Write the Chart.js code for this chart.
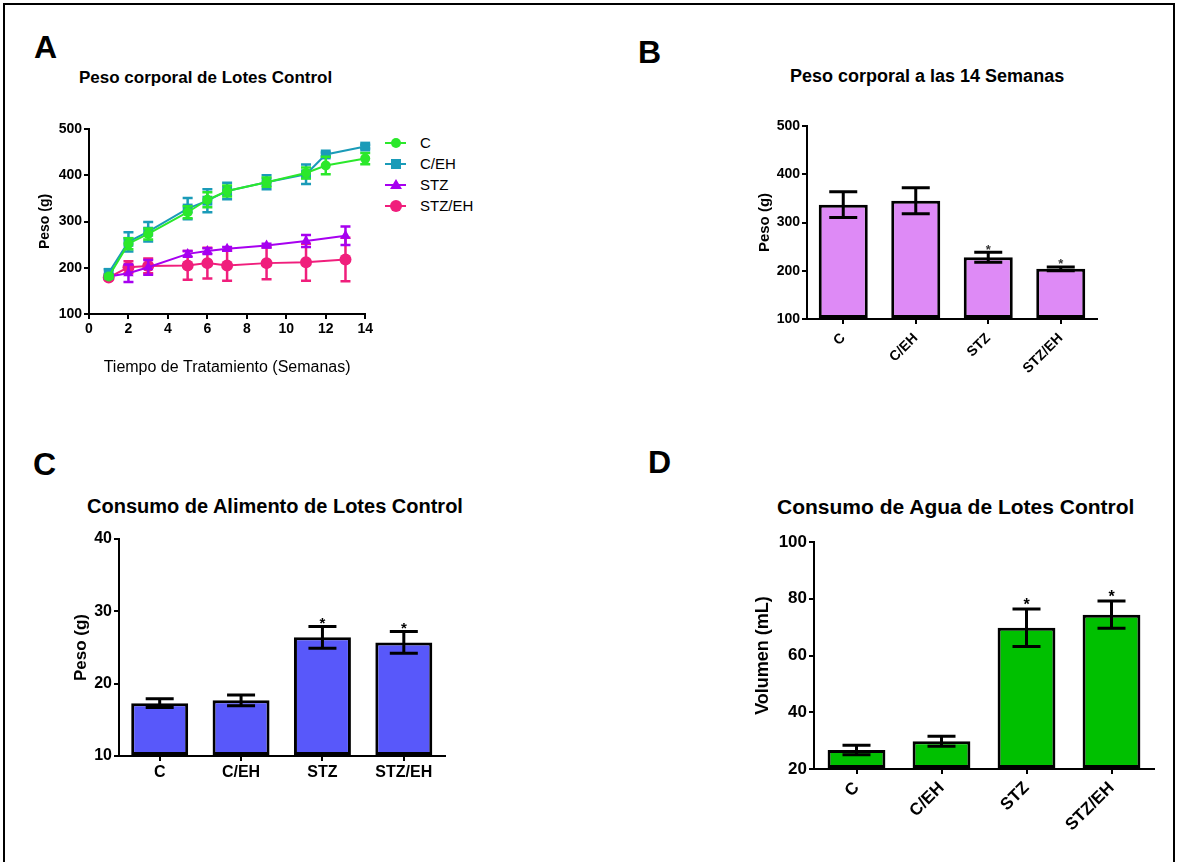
<!DOCTYPE html>
<html>
<head>
<meta charset="utf-8">
<script src="https://cdn.jsdelivr.net/npm/chart.js@4.4.1/dist/chart.umd.min.js"></script>
<style>
  body { margin:0; background:#fff; width:1177px; height:862px; overflow:hidden; position:relative; font-family:'Liberation Sans', Arial, sans-serif; }
  .frame { position:absolute; left:3px; top:3px; width:1168px; height:880px; border:2px solid #000; }
  .abs { position:absolute; white-space:nowrap; line-height:1; color:#000; }
  .letter { font-size:32px; font-weight:bold; }
  .ttl { font-weight:bold; }
  .box { position:absolute; }
  #legA .row { position:absolute; left:0; height:21px; width:120px; }
  #legA .ln { position:absolute; left:0; top:10px; width:21px; height:2px; }
  #legA .mk { position:absolute; }
  #legA .tx { position:absolute; left:35px; top:3px; font-size:15px; line-height:1; }
</style>
</head>
<body>
<div class="frame"></div>

<div class="abs letter" style="left:34px;top:31px">A</div>
<div class="abs letter" style="left:638px;top:36px">B</div>
<div class="abs letter" style="left:33px;top:448px">C</div>
<div class="abs letter" style="left:648px;top:446px">D</div>

<div class="abs ttl" style="left:79px;top:69px;font-size:17px">Peso corporal de Lotes Control</div>
<div class="abs ttl" style="left:790px;top:67px;font-size:18px">Peso corporal a las 14 Semanas</div>
<div class="abs ttl" style="left:87px;top:496px;font-size:20px">Consumo de Alimento de Lotes Control</div>
<div class="abs ttl" style="left:777px;top:496px;font-size:21px">Consumo de Agua de Lotes Control</div>

<div class="box" style="left:33px;top:112px;width:342px;height:269px"><canvas id="chartA"></canvas></div>
<div id="legA" class="box" style="left:385px;top:132px;width:120px;height:90px"></div>
<div class="box" style="left:752px;top:110px;width:355px;height:280px"><canvas id="chartB"></canvas></div>
<div class="box" style="left:67px;top:522px;width:388px;height:268px"><canvas id="chartC"></canvas></div>
<div class="box" style="left:748px;top:525px;width:417px;height:320px"><canvas id="chartD"></canvas></div>

<script>
// --- data ---
const weeksC = [1, 2, 3, 5, 6, 7, 9, 11, 12, 14];
const weeksSTZ = [1, 2, 3, 5, 6, 7, 9, 11, 13];

const pesoC     = [181, 252, 273, 320, 347, 366, 385, 405, 421, 436];
const errC      = [4, 12, 12, 13, 16, 12, 10, 12, 19, 12];
const pesoCEH   = [189, 256, 278, 328, 345, 366, 385, 402, 445, 462];
const errCEH    = [8, 21, 21, 23, 25, 18, 15, 21, 4, 4];
const pesoSTZ   = [181, 188, 201, 230, 236, 241, 248, 258, 269];
const errSTZ    = [5, 19, 16, 6, 6, 4, 4, 13, 20];
const pesoSTZEH = [179, 201, 204, 205, 210, 205, 210, 212, 218];
const errSTZEH  = [4, 13, 16, 31, 33, 33, 35, 40, 47];

const grupos = ['C', 'C/EH', 'STZ', 'STZ/EH'];
const peso14 = [337, 345, 228, 204];
const errPeso14 = [26.5, 27, 10.5, 4];
const alimento = [17.3, 17.7, 26.4, 25.7];
const errAlimento = [0.6, 0.75, 1.5, 1.5];
const agua = [26.7, 29.8, 69.8, 74.4];
const errAgua = [1.7, 1.75, 6.6, 4.8];
const signif = ['', '', '*', '*'];

const FONT = "'Liberation Sans', Arial, sans-serif";
Chart.defaults.font.family = FONT;
Chart.defaults.color = '#000';

// error bars (+ significance marks) drawn from the y scale
const errorBars = {
  id: 'errorBars',
  beforeDatasetDraw(chart, args) { if (chart.data.datasets[args.index].errBehind) draw(chart, args); },
  afterDatasetDraw(chart, args) { if (!chart.data.datasets[args.index].errBehind) draw(chart, args); }
};
function draw(chart, args) {
  const ds = chart.data.datasets[args.index];
  if (!ds.errors) return;
  const y = chart.scales.y, ctx = chart.ctx;
  ctx.save();
  ctx.strokeStyle = ds.errColor || ds.borderColor;
  ctx.lineWidth = ds.errWidth || 2;
  args.meta.data.forEach((el, i) => {
    const raw = ds.data[i];
    const v = typeof raw === 'object' ? raw.y : raw;
    const e = ds.errors[i];
    const top = y.getPixelForValue(v + e), bot = y.getPixelForValue(v - e);
    const x = el.x, c = ds.capHalf || 5;
    ctx.beginPath();
    ctx.moveTo(x, top); ctx.lineTo(x, bot);
    ctx.moveTo(x - c, top); ctx.lineTo(x + c, top);
    ctx.moveTo(x - c, bot); ctx.lineTo(x + c, bot);
    ctx.stroke();
    if (ds.marks && ds.marks[i]) {
      ctx.fillStyle = ds.markColor || '#000';
      ctx.font = 'bold ' + ds.markSize + 'px ' + FONT;
      ctx.textAlign = 'center';
      ctx.textBaseline = 'alphabetic';
      ctx.fillText(ds.marks[i], x, top - ds.markGap + ds.markSize * 0.58);
    }
  });
  ctx.restore();
}

function axis(size, extra) {
  return Object.assign({
    border: { color: '#000', width: 2 },
    grid: { display: true, drawOnChartArea: false, drawTicks: true, tickLength: 5, color: '#000', lineWidth: 2, offset: false },
    ticks: { color: '#000', font: { size: size, weight: 'bold' }, padding: 2 }
  }, extra);
}
function yTitle(text, size) { return { display: true, text: text, color: '#000', font: { size: size, weight: 'bold' } }; }

const base = {
  responsive: true, maintainAspectRatio: false, animation: false,
  plugins: { legend: { display: false }, tooltip: { enabled: false } }
};

// ---------- A ----------
const seriesA = [
  { label: 'C', x: weeksC, y: pesoC, e: errC, color: '#2BE82B', style: 'circle', r: 5 },
  { label: 'C/EH', x: weeksC, y: pesoCEH, e: errCEH, color: '#1A9BB8', style: 'rect', r: 7 },
  { label: 'STZ', x: weeksSTZ, y: pesoSTZ, e: errSTZ, color: '#A700F0', style: 'triangle', r: 6 },
  { label: 'STZ/EH', x: weeksSTZ, y: pesoSTZEH, e: errSTZEH, color: '#F01E7C', style: 'circle', r: 6 }
];

new Chart(document.getElementById('chartA'), {
  type: 'line',
  data: {
    datasets: seriesA.map(s => ({
      label: s.label,
      data: s.x.map((w, i) => ({ x: w, y: s.y[i] })),
      errors: s.e, errBehind: true, errWidth: 2.5, capHalf: 5,
      borderColor: s.color, backgroundColor: s.color, borderWidth: 2,
      pointStyle: s.style, pointRadius: s.r, pointBorderWidth: 0, pointBackgroundColor: s.color,
      tension: 0, clip: false
    }))
  },
  options: Object.assign({}, base, {
    layout: { padding: { top: 17, right: 9, left: 0, bottom: 0 } },
    scales: {
      x: axis(14, {
        type: 'linear', min: 0, max: 14,
        ticks: { color: '#000', font: { size: 14, weight: 'bold' }, padding: 2, stepSize: 2 },
        title: { display: true, text: 'Tiempo de Tratamiento (Semanas)', color: '#000', font: { size: 16, weight: 'normal' } },
        afterFit: s => { s.height = 67; }
      }),
      y: axis(14, {
        min: 100, max: 500,
        ticks: { color: '#000', font: { size: 14, weight: 'bold' }, padding: 2, stepSize: 100 },
        title: yTitle('Peso (g)', 14),
        afterFit: s => { s.width = 56; }
      })
    }
  }),
  plugins: [errorBars]
});

// legend A (HTML)
const legA = document.getElementById('legA');
seriesA.forEach((s, i) => {
  const row = document.createElement('div');
  row.className = 'row';
  row.style.top = (i * 21) + 'px';
  let mk;
  if (s.style === 'triangle') {
    mk = `<span class="mk" style="left:5px;top:5px;width:0;height:0;border-left:6px solid transparent;border-right:6px solid transparent;border-bottom:10px solid ${s.color}"></span>`;
  } else {
    const d = s.style === 'rect' ? 10 : s.r * 2;
    mk = `<span class="mk" style="left:${11 - d / 2}px;top:${11 - d / 2}px;width:${d}px;height:${d}px;background:${s.color};border-radius:${s.style === 'rect' ? 0 : '50%'}"></span>`;
  }
  row.innerHTML = `<span class="ln" style="background:${s.color}"></span>${mk}<span class="tx">${s.label}</span>`;
  legA.appendChild(row);
});

// ---------- bar panels ----------
function barChart(id, values, errs, opt) {
  return new Chart(document.getElementById(id), {
    type: 'bar',
    data: {
      labels: grupos,
      datasets: [{
        data: values, base: opt.min,
        backgroundColor: opt.fill, borderColor: '#000', borderWidth: 3, borderSkipped: false,
        categoryPercentage: 1, barPercentage: opt.barPct,
        errors: errs, errColor: '#000', errWidth: 3, capHalf: 14,
        marks: signif, markSize: opt.markSize, markGap: opt.markGap, markColor: opt.markColor,
        clip: false
      }]
    },
    options: Object.assign({}, base, {
      layout: { padding: { top: opt.padTop, right: opt.padRight, left: 0, bottom: 0 } },
      scales: {
        x: axis(opt.xFont, {
          type: 'category',
          ticks: { color: '#000', font: { size: opt.xFont, weight: 'bold' }, padding: opt.xPad, minRotation: opt.rot, maxRotation: opt.rot, autoSkip: false },
          afterFit: s => { s.height = opt.xH; }
        }),
        y: axis(opt.yFont, {
          min: opt.min, max: opt.max,
          ticks: { color: '#000', font: { size: opt.yFont, weight: 'bold' }, padding: 2, stepSize: opt.step },
          title: yTitle(opt.yTitle, opt.titleFont),
          afterFit: s => { s.width = opt.yW; }
        })
      }
    }),
    plugins: [errorBars]
  });
}

barChart('chartB', peso14, errPeso14, {
  min: 100, max: 500, step: 100, fill: '#DE8AF6', barPct: 0.676,
  padTop: 16, padRight: 10, xH: 71, yW: 55, xFont: 14, xPad: 6, yFont: 14, rot: 45,
  yTitle: 'Peso (g)', titleFont: 15, markSize: 13, markGap: 6, markColor: '#333'
});
barChart('chartC', alimento, errAlimento, {
  min: 10, max: 40, step: 10, fill: '#5858FA', barPct: 0.70,
  padTop: 17, padRight: 10.5, xH: 34, yW: 52, xFont: 16, xPad: 2, yFont: 16, rot: 0,
  yTitle: 'Peso (g)', titleFont: 17, markSize: 15, markGap: 7, markColor: '#000'
});
barChart('chartD', agua, errAgua, {
  min: 20, max: 100, step: 20, fill: '#00C000', barPct: 0.68,
  padTop: 17, padRight: 11, xH: 76, yW: 66, xFont: 17, xPad: 4, yFont: 17, rot: 45,
  yTitle: 'Volumen (mL)', titleFont: 18, markSize: 16, markGap: 8, markColor: '#000'
});
</script>
</body>
</html>
